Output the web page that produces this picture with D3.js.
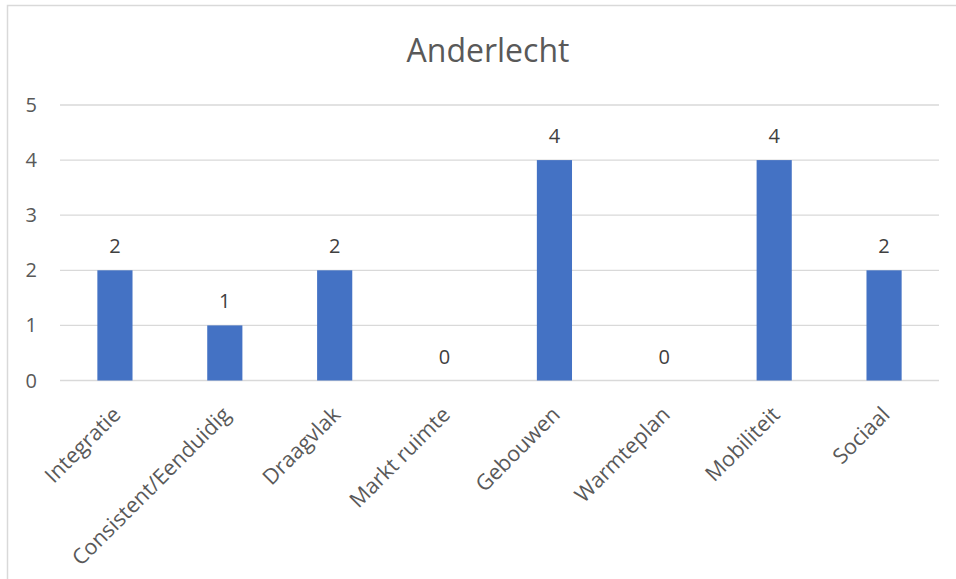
<!DOCTYPE html>
<html>
<head>
<meta charset="utf-8">
<script src="https://cdn.jsdelivr.net/npm/d3@7"></script>
<style>
  body { margin: 0; background: #fff; }
  svg text { font-family: "Open Sans", sans-serif; }
</style>
</head>
<body>
<div id="chart"></div>
<script>
var title = 'Anderlecht';
var categories = ['Integratie', 'Consistent/Eenduidig', 'Draagvlak', 'Markt ruimte',
                  'Gebouwen', 'Warmteplan', 'Mobiliteit', 'Sociaal'];
var values = [2, 1, 2, 0, 4, 0, 4, 2];
var yTicks = [0, 1, 2, 3, 4, 5];

var W = 956, H = 579;

var svg = d3.select('#chart')
    .append('svg')
    .attr('width', W)
    .attr('height', H);

// chart frame (only top and left edges show in the crop)
svg.append('rect')
    .attr('x', 7.5)
    .attr('y', 5.5)
    .attr('width', W + 10)
    .attr('height', H + 10)
    .attr('fill', 'none')
    .attr('stroke', '#d9d9d9')
    .attr('stroke-width', 1.5);

svg.append('text')
    .attr('x', 488)
    .attr('y', 62)
    .attr('text-anchor', 'middle')
    .attr('fill', '#595959')
    .style('font-size', '32px')
    .text(title);

var x = d3.scaleBand()
    .domain(categories)
    .range([60, 939])
    .paddingInner(0.68)
    .paddingOuter(0.34);

var y = d3.scaleLinear()
    .domain([0, 5])
    .range([380.5, 105]);

// gridlines
svg.append('g')
    .selectAll('line')
    .data(yTicks)
    .enter()
    .append('line')
    .attr('x1', 60)
    .attr('x2', 939)
    .attr('y1', function (d) { return y(d); })
    .attr('y2', function (d) { return y(d); })
    .attr('stroke', '#d9d9d9')
    .attr('stroke-width', 1.3);

// y tick labels
svg.append('g')
    .selectAll('text')
    .data(yTicks)
    .enter()
    .append('text')
    .attr('x', 37)
    .attr('y', function (d) { return y(d); })
    .attr('dy', '0.35em')
    .attr('text-anchor', 'end')
    .attr('fill', '#595959')
    .style('font-size', '20px')
    .text(function (d) { return d; });

// bars
svg.append('g')
    .selectAll('rect')
    .data(values)
    .enter()
    .append('rect')
    .attr('x', function (d, i) { return x(categories[i]); })
    .attr('width', x.bandwidth())
    .attr('y', function (d) { return y(d); })
    .attr('height', function (d) { return y(0) - y(d); })
    .attr('fill', '#4472c4');

// value labels
svg.append('g')
    .selectAll('text')
    .data(values)
    .enter()
    .append('text')
    .attr('x', function (d, i) { return x(categories[i]) + x.bandwidth() / 2; })
    .attr('y', function (d) { return y(d) - 17; })
    .attr('text-anchor', 'middle')
    .attr('fill', '#404040')
    .style('font-size', '20px')
    .text(function (d) { return d; });

// category labels, rotated
svg.append('g')
    .selectAll('text')
    .data(categories)
    .enter()
    .append('text')
    .attr('transform', function (d) {
        var cx = x(d) + x.bandwidth() / 2 + 7;
        return 'translate(' + cx + ',' + 416 + ') rotate(-45)';
    })
    .attr('text-anchor', 'end')
    .attr('fill', '#595959')
    .style('font-size', '21.5px')
    .text(function (d) { return d; });
</script>
</body>
</html>
